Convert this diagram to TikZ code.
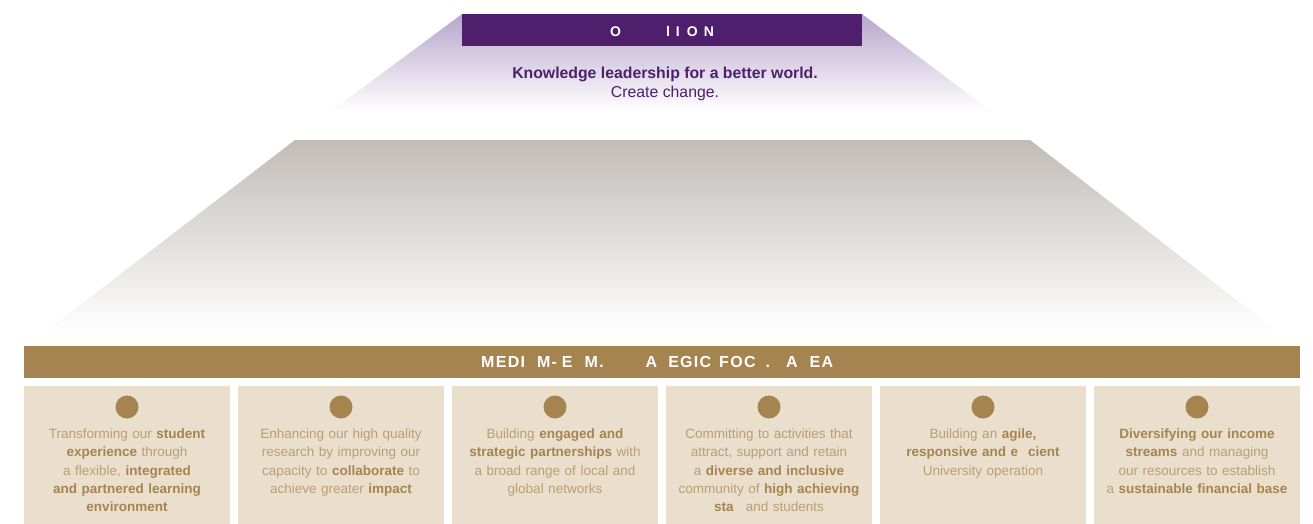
\documentclass[tikz,border=0pt]{standalone}
\usepackage{fontspec}
\setmainfont{Liberation Sans}
\usepackage{xcolor}
\usetikzlibrary{positioning}

\definecolor{visionpurple}{HTML}{4E1F6C}
\definecolor{lavender}{HTML}{B7A6CB}
\definecolor{pyramidgrey}{HTML}{C1BCB8}
\definecolor{gold}{HTML}{A5844F}
\definecolor{sand}{HTML}{EADFCC}
\definecolor{lighttext}{HTML}{BA9E74}

\tikzset{
    bar/.style={fill=#1, draw=none, minimum height=32pt, anchor=north west},
    bartext/.style={text=white, inner sep=0pt, font=\bfseries\fontsize{#1}{18}\selectfont\addfontfeature{LetterSpace=8}},
    areabox/.style={fill=sand, draw=none, anchor=north west, minimum width=206pt, minimum height=140pt},
    dot/.style={circle, fill=gold, draw=none, minimum size=23pt, inner sep=0pt},
    areatext/.style={align=center, anchor=north, text width=200pt, inner sep=0pt, text=lighttext,
        font=\fontsize{13.5}{18.3}\selectfont},
}
\newcommand{\hl}[1]{\textcolor{gold}{\textbf{#1}}}

\begin{document}
\begin{tikzpicture}[x=1pt, y=-1pt]
        \useasboundingbox (0,0) rectangle (1313,523);

        % top of the pyramid
        \shade[top color=lavender, bottom color=white] (462,14) -- (862,14) -- (992,112) -- (330,112) -- cycle;
        \node [bar=visionpurple, minimum width=400pt] (vision) at (462,14) {};
        \node [bartext=14, anchor=west] (visiontitle) at (610,31) {O\hspace{45pt}l\hspace{6pt}I\hspace{7pt}O\hspace{6pt}N};
        \node [text=visionpurple, font=\bfseries\fontsize{15.8}{18}\selectfont] (lead) at (665,74) {Knowledge leadership for a better world.};
        \node [text=visionpurple, font=\fontsize{15.8}{18}\selectfont] (change) at (665,93) {Create change.};

        % body of the pyramid
        \shade[top color=pyramidgrey, bottom color=white] (295,140) -- (1030,140) -- (1278,332) -- (45,332) -- cycle;

        % focus areas
        \node [bar=gold, minimum width=1276pt] (focus) at (24,346) {};
        \node [bartext=16, anchor=west] (focustitle) at (481,362) {MEDI\hspace{12pt}M-\hspace{5pt}E\hspace{12pt}M.\hspace{42pt}A\hspace{11pt}EGIC\hspace{8pt}FOC\hspace{10pt}.\hspace{16pt}A\hspace{12pt}EA};

        \node [areabox] (areaA) at (24,386) {};
        \node [areabox] (areaB) at (238,386) {};
        \node [areabox] (areaC) at (452,386) {};
        \node [areabox] (areaD) at (666,386) {};
        \node [areabox] (areaE) at (880,386) {};
        \node [areabox] (areaF) at (1094,386) {};

        \node [dot] (dotA) at (127,407) {};
        \node [dot] (dotB) at (341,407) {};
        \node [dot] (dotC) at (555,407) {};
        \node [dot] (dotD) at (769,407) {};
        \node [dot] (dotE) at (983,407) {};
        \node [dot] (dotF) at (1197,407) {};

        \node [areatext, below=10pt of dotA] (textA) {Transforming our \hl{student}\\\hl{experience} through\\a flexible, \hl{integrated}\\\hl{and partnered learning}\\\hl{environment}};
        \node [areatext, below=10pt of dotB] (textB) {Enhancing our high quality\\research by improving our\\capacity to \hl{collaborate} to\\achieve greater \hl{impact}};
        \node [areatext, below=10pt of dotC] (textC) {Building \hl{engaged and}\\\hl{strategic partnerships} with\\a broad range of local and\\global networks};
        \node [areatext, below=10pt of dotD] (textD) {Committing to activities that\\attract, support and retain\\a \hl{diverse and inclusive}\\community of \hl{high achieving}\\\hl{sta}\hspace{12pt}and students};
        \node [areatext, below=10pt of dotE] (textE) {Building an \hl{agile,}\\\hl{responsive and e\hspace{10pt}cient}\\University operation};
        \node [areatext, below=10pt of dotF] (textF) {\hl{Diversifying our income}\\\hl{streams} and managing\\our resources to establish\\a \hl{sustainable financial base}};
    \end{tikzpicture}
\end{document}
